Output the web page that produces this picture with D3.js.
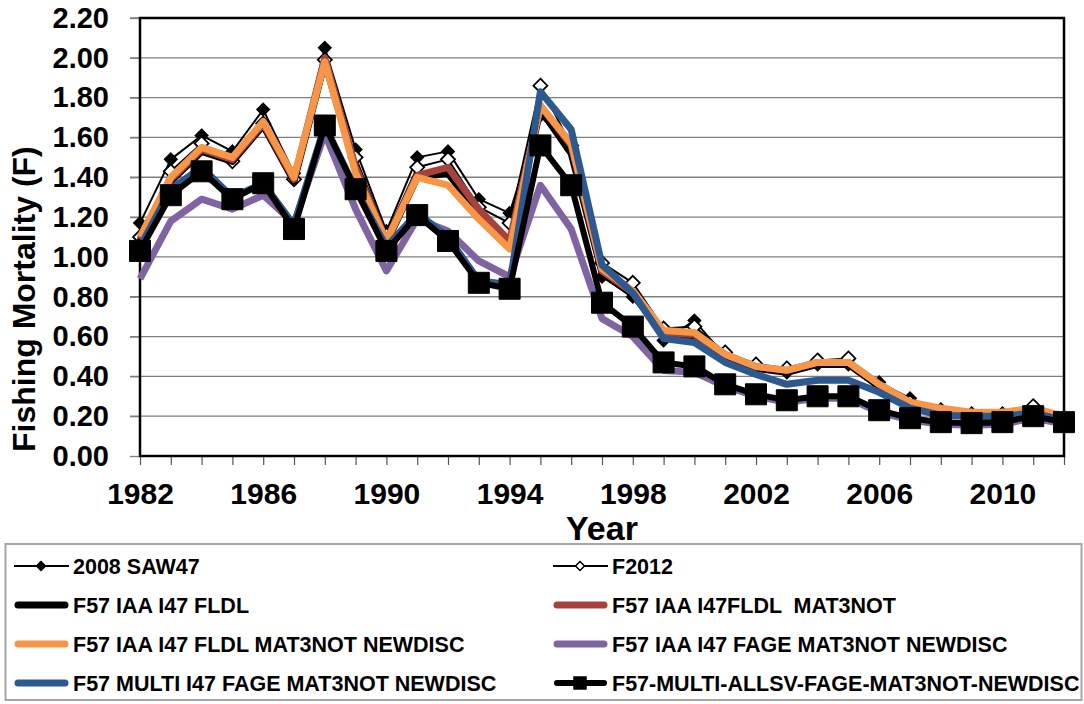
<!DOCTYPE html>
<html>
<head>
<meta charset="utf-8">
<script src="https://cdn.jsdelivr.net/npm/d3@7"></script>
<style>
  body { margin: 0; background: #fff; }
  text { font-family: "Liberation Sans", Arial, sans-serif; font-weight: bold; fill: #000; white-space: pre; }
</style>
</head>
<body>
<script>
const years = [1982,1983,1984,1985,1986,1987,1988,1989,1990,1991,1992,1993,1994,1995,1996,1997,1998,1999,2000,2001,2002,2003,2004,2005,2006,2007,2008,2009,2010,2011,2012];

const saw47 = [1.17,1.49,1.61,1.53,1.74,1.42,2.05,1.54,1.13,1.50,1.53,1.29,1.22,1.71,1.54,0.90,0.80,0.58,0.68,0.50,0.45,0.42,0.46,0.46,0.37,0.29,null,null,null,null,null];
const f2012 = [1.10,1.43,1.57,1.48,1.67,1.39,1.99,1.50,1.11,1.45,1.49,1.25,1.17,1.86,1.56,0.97,0.87,0.64,0.65,0.52,0.46,0.44,0.48,0.49,0.35,0.27,0.23,0.21,0.21,0.25,0.19];
const fldl = [1.08,1.38,1.53,1.48,1.66,1.38,1.98,1.44,1.07,1.40,1.42,1.22,1.06,1.74,1.52,0.92,0.81,0.62,0.60,0.50,0.44,0.42,0.46,0.46,0.35,0.26,0.22,0.20,0.20,0.22,0.18];
const mat3not = [1.09,1.39,1.54,1.49,1.67,1.39,2.00,1.45,1.08,1.41,1.45,1.24,1.08,1.76,1.56,0.93,0.82,0.62,0.61,0.51,0.45,0.43,0.47,0.47,0.36,0.27,0.23,0.21,0.21,0.23,0.19];
const newdisc = [1.10,1.40,1.55,1.50,1.68,1.40,1.98,1.42,1.08,1.40,1.36,1.19,1.04,1.76,1.57,0.94,0.83,0.63,0.62,0.51,0.45,0.43,0.47,0.47,0.36,0.27,0.24,0.22,0.22,0.24,0.20];
const fage = [0.89,1.18,1.29,1.24,1.31,1.17,1.62,1.24,0.93,1.19,1.13,0.98,0.90,1.36,1.14,0.69,0.60,0.43,0.42,0.35,0.30,0.27,0.29,0.29,0.22,0.18,0.16,0.155,0.16,0.19,0.16];
const multi = [1.05,1.34,1.45,1.30,1.37,1.16,1.66,1.34,1.05,1.22,1.10,0.88,0.86,1.83,1.64,0.96,0.82,0.59,0.57,0.47,0.41,0.36,0.38,0.38,0.32,0.24,0.205,0.20,0.20,0.215,0.18];
const allsv = [1.03,1.31,1.43,1.29,1.37,1.14,1.66,1.34,1.03,1.21,1.08,0.87,0.84,1.56,1.36,0.77,0.65,0.47,0.45,0.36,0.31,0.28,0.30,0.30,0.23,0.19,0.17,0.165,0.17,0.20,0.17];

const seriesNames = ["2008 SAW47","F2012","F57 IAA I47 FLDL","F57 IAA I47FLDL  MAT3NOT","F57 IAA I47 FLDL MAT3NOT NEWDISC","F57 IAA I47 FAGE MAT3NOT NEWDISC","F57 MULTI I47 FAGE MAT3NOT NEWDISC","F57-MULTI-ALLSV-FAGE-MAT3NOT-NEWDISC"];
const seriesValues = [saw47, f2012, fldl, mat3not, newdisc, fage, multi, allsv];
const yTicks = [0,0.2,0.4,0.6,0.8,1.0,1.2,1.4,1.6,1.8,2.0,2.2];
const xLabels = [1982,1986,1990,1994,1998,2002,2006,2010];

// drawing styles per series
const styles = [
  {color: "#000", width: 2, marker: "diamond", fill: "#000", size: 12},
  {color: "#000", width: 2, marker: "diamond", fill: "#fff", size: 14},
  {color: "#000", width: 7},
  {color: "#A6423E", width: 7},
  {color: "#F79646", width: 7},
  {color: "#8064A2", width: 7},
  {color: "#2D5890", width: 7},
  {color: "#000", width: 6, marker: "square", fill: "#000", size: 21}
];

const W = 1084, H = 704;
const svg = d3.select("body").append("svg").attr("width", W).attr("height", H);

const x = d3.scaleLinear().domain([1982, 2012]).range([140, 1064]);
const y = d3.scaleLinear().domain([0, 2.2]).range([456, 18]);

// gridlines
svg.append("g")
  .selectAll("line").data(yTicks.slice(1)).join("line")
  .attr("x1", 130).attr("x2", 1064)
  .attr("y1", d => y(d)).attr("y2", d => y(d))
  .attr("stroke", "#7f7f7f").attr("stroke-width", 1.3);

// y axis
const yAxis = svg.append("g").attr("transform", "translate(140,0)")
  .call(d3.axisLeft(y).tickValues(yTicks).tickFormat(d3.format(".2f")).tickSize(10).tickPadding(21));
yAxis.select(".domain").remove();
yAxis.selectAll(".tick line").attr("stroke", "#7f7f7f").attr("stroke-width", 1.3);
yAxis.selectAll(".tick text").style("font-size", "29px").attr("font-family", null);

// x axis ticks
const xAxis = svg.append("g").attr("transform", "translate(0,456)")
  .call(d3.axisBottom(x).tickValues(years).tickFormat("").tickSize(9));
xAxis.select(".domain").remove();
xAxis.selectAll(".tick line").attr("stroke", "#555").attr("stroke-width", 1.2);

const xLab = svg.append("g").attr("transform", "translate(0,456)")
  .call(d3.axisBottom(x).tickValues(xLabels).tickFormat(d3.format("d")).tickSize(0).tickPadding(27));
xLab.select(".domain").remove();
xLab.selectAll(".tick text").style("font-size", "30px").attr("font-family", null);

// plot frame
svg.append("rect")
  .attr("x", 140).attr("y", 18).attr("width", 924).attr("height", 438)
  .attr("fill", "none").attr("stroke", "#000").attr("stroke-width", 2.5);

// axis titles
svg.append("text").attr("x", 602).attr("y", 540).attr("text-anchor", "middle")
  .style("font-size", "34px").text("Year");
svg.append("text").attr("transform", "translate(35,452) rotate(-90)")
  .attr("text-anchor", "start").style("font-size", "32px").text("Fishing Mortality (F)");

// series
const line = d3.line().defined(d => d.v != null).x(d => x(d.year)).y(d => y(d.v));

function markerPath(type, s) {
  const h = s / 2;
  if (type === "diamond") return `M0,${-h}L${h},0L0,${h}L${-h},0Z`;
  return `M${-h},${-h}H${h}V${h}H${-h}Z`;
}

seriesValues.forEach((vals, i) => {
  const st = styles[i];
  const pts = years.map((yr, j) => ({year: yr, v: vals[j]}));
  const g = svg.append("g");
  g.append("path").datum(pts).attr("d", line)
    .attr("fill", "none").attr("stroke", st.color).attr("stroke-width", st.width)
    .attr("stroke-linejoin", "round");
  if (st.marker) {
    g.selectAll("path.m").data(pts.filter(d => d.v != null)).join("path")
      .attr("class", "m")
      .attr("transform", d => `translate(${x(d.year)},${y(d.v)})`)
      .attr("d", markerPath(st.marker, st.size))
      .attr("fill", st.fill).attr("stroke", "#000").attr("stroke-width", st.marker === "diamond" ? 1.8 : 1);
  }
});

// legend
svg.append("rect").attr("x", 5.5).attr("y", 544).attr("width", 1076).attr("height", 156)
  .attr("fill", "none").attr("stroke", "#a6a6a6").attr("stroke-width", 2);

const legX = [14, 553];
const legY = [566, 605, 644, 683];
seriesNames.forEach((name, i) => {
  const st = styles[i];
  const lx = legX[i % 2], ly = legY[Math.floor(i / 2)];
  const g = svg.append("g").attr("transform", `translate(${lx},${ly})`);
  g.append("line").attr("x1", st.width > 3 ? 4 : 0).attr("x2", st.width > 3 ? 51 : 55)
    .attr("stroke", st.color).attr("stroke-width", st.width)
    .attr("stroke-linecap", st.width > 3 ? "round" : "butt");
  if (st.marker) {
    g.append("path").attr("transform", "translate(27,0)")
      .attr("d", markerPath(st.marker, st.marker === "square" ? 12 : 9))
      .attr("fill", st.fill).attr("stroke", "#000").attr("stroke-width", 1.5);
  }
  g.append("text").attr("x", 59).attr("y", 7.5).style("font-size", "21.5px").text(name);
});
</script>
</body>
</html>
